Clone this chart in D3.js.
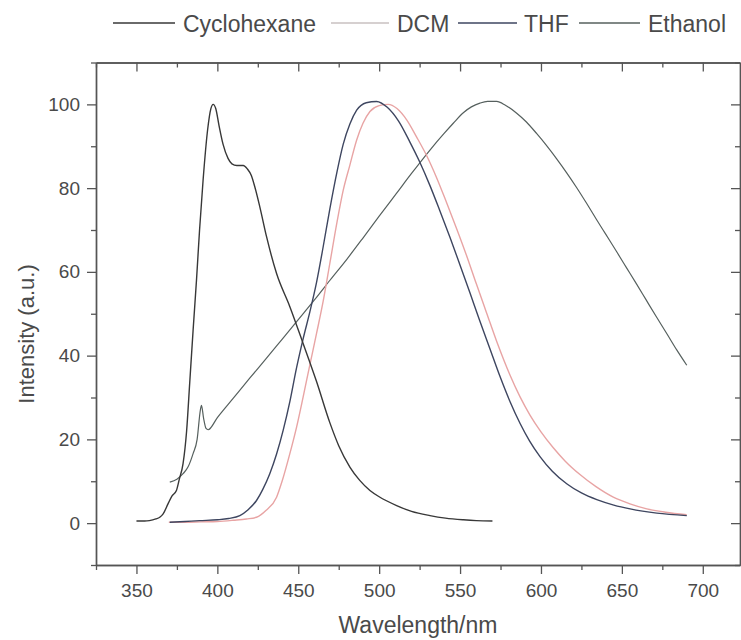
<!DOCTYPE html>
<html>
<head>
<meta charset="utf-8">
<script src="https://cdn.jsdelivr.net/npm/d3@7"></script>
<style>
  html, body { margin: 0; padding: 0; background: #fff; }
  svg { display: block; }
  text { font-family: "Liberation Sans", Arial, sans-serif; fill: #4a4a4a; }
</style>
</head>
<body>
<svg id="chart" width="741" height="640"></svg>
<script>
// ---- data (wavelength nm, normalized intensity a.u.) ----
const seriesNames = ["Cyclohexane", "DCM", "THF", "Ethanol"];
const seriesColors = ["#383838", "#e8a4a4", "#3e4660", "#56605e"];
const legendColors = ["#383838", "#c8c0c0", "#3e4660", "#56605e"];

const cyclohexane = [
  [350,0.5],[355,0.5],[358,0.6],[362,1.0],[364.4,1.4],[366.5,2.2],[369.5,4.6],[372,6.5],[374.7,7.8],
  [376.5,10.5],[378.8,14.2],[381,22],[383,34],[385,46],[387.1,58],[389,70],[391.2,82],[394,94],
  [396,99],[397.4,100],[399,99],[401,95],[403.5,90.5],[406.6,87.1],[409,85.8],[412,85.4],[416,85.4],
  [418.5,84.6],[421,83],[423,80.5],[426.2,75.6],[430.4,68.4],[436.6,59.6],[444.8,51.7],[453,42.9],
  [461.3,33.8],[469.5,24],[475,18.5],[481.9,13.4],[488,10.2],[494.3,7.8],[500,6.3],[510.8,4.2],
  [520,2.8],[531.4,1.8],[541,1.2],[552,0.8],[560,0.6],[570,0.5]
];

const dcm = [
  [370,0.2],[380,0.2],[390,0.3],[400,0.4],[410,0.7],[418,1.0],[424.2,1.4],[430,3],[436.6,6.2],
  [440,10],[444.8,16.6],[449,23],[453,30.1],[457,37.5],[461.3,45.3],[465.4,53],[469.5,62],[474,72],
  [477.8,79.5],[481.9,85.5],[486.1,91.5],[490,95.5],[494.3,98.3],[500,99.7],[505.6,100],[511,99],
  [517,96.3],[523,92.3],[529.3,87.8],[535.5,82.5],[541.7,76.5],[548,70.2],[554.1,63.8],[560,57.2],
  [566.4,50.2],[573,43],[580.9,35.3],[587,30.2],[593.2,25.8],[600,21.8],[607.6,18],[615,14.8],
  [624.1,11.6],[634,8.7],[644.7,6.2],[655,4.6],[665.4,3.4],[677,2.6],[690.1,2.0]
];

const thf = [
  [370.6,0.2],[380,0.4],[389,0.6],[400,0.8],[407,1.1],[413.9,1.8],[419,3.2],[424.2,5.4],[428,8],
  [432.4,11.8],[436.6,16.5],[440.7,22.2],[444.8,29],[448.9,37],[453,44],[457.2,50.5],[461.3,57.5],
  [465.4,66],[469.5,75],[474,84],[477.8,90.5],[481.9,95.3],[486.1,98.6],[492,100.4],[498.4,100.7],
  [505,99.3],[512,96],[519,91],[525,86.3],[531.4,80.6],[537.5,74.6],[543.8,68.2],[550,61.6],
  [556.1,55],[562,48.5],[568.5,41.6],[574.7,35],[580.9,29],[587.1,23.8],[593,19.6],[599.4,15.9],
  [607,12.4],[615.9,9.4],[625,7.2],[634.5,5.6],[645,4.3],[655.1,3.4],[671.6,2.4],[690.1,1.8]
];

const ethanol = [
  [370.6,9.8],[375,10.5],[378.8,11.8],[382,13.5],[385,16.6],[387.5,20],[389.5,27],[390.2,28.1],
  [391.5,25],[393,22.6],[394.3,22.3],[400,25.2],[410,29.9],[420,34.6],[430,39.2],[440,43.9],
  [450,48.6],[460,53.3],[469.6,58],[480,63],[490.2,68.2],[500,73.3],[510.8,78.8],[520,83.5],
  [531.4,89.1],[540,93],[545.8,95.5],[552,98],[557,99.4],[562.3,100.3],[567,100.7],[572.6,100.7],
  [578,99.8],[585,97.9],[591,95.8],[597.4,93],[603,90.4],[609.7,87],[616,83.6],[622.1,80.1],
  [628,76.5],[634.5,72.4],[640,69],[646.8,64.8],[653,60.9],[659.2,57],[665,53.3],[671.6,49.1],
  [678,45.1],[684,41.3],[690.1,37.7]
];

const xMajorTicks = [350, 400, 450, 500, 550, 600, 650, 700];
const xMinorTicks = [325, 375, 425, 475, 525, 575, 625, 675, 725];
const yMajorTicks = [0, 20, 40, 60, 80, 100];
const yMinorTicks = [-10, 10, 30, 50, 70, 90, 110];
const xTitle = "Wavelength/nm";
const yTitle = "Intensity (a.u.)";

// ---- drawing ----
const svg = d3.select("#chart");
const pLeft = 96, pRight = 740, pTop = 62.5, pBottom = 565;
const x = d3.scaleLinear().domain([325, 723]).range([pLeft, pRight]);
const y = d3.scaleLinear().domain([-10, 110]).range([pBottom, pTop]);
const axisColor = "#555";

const allSeries = [cyclohexane, dcm, thf, ethanol];
const line = d3.line().x(d => x(d[0])).y(d => y(d[1])).curve(d3.curveMonotoneX);

svg.append("defs").append("clipPath").attr("id", "clip")
  .append("rect").attr("x", pLeft).attr("y", pTop).attr("width", pRight - pLeft).attr("height", pBottom - pTop);

const plot = svg.append("g").attr("clip-path", "url(#clip)");
// draw order: ethanol, dcm, thf, cyclohexane
[3, 1, 2, 0].forEach(i => {
  plot.append("path")
    .datum(allSeries[i])
    .attr("fill", "none")
    .attr("stroke", seriesColors[i])
    .attr("stroke-width", i === 3 ? 1.2 : 1.4)
    .attr("stroke-linejoin", "round")
    .attr("d", line);
});

function styleAxis(g) {
  g.select(".domain").attr("stroke", axisColor).attr("stroke-width", 1.4);
  g.selectAll(".tick line").attr("stroke", axisColor).attr("stroke-width", 1.3);
  g.selectAll(".tick text").attr("font-size", 19).attr("fill", "#4a4a4a")
    .attr("font-family", "'Liberation Sans', Arial, sans-serif");
}

// bottom axis
svg.append("g").attr("transform", `translate(0,${pBottom})`)
  .call(d3.axisBottom(x).tickValues(xMajorTicks).tickSize(9).tickPadding(10).tickSizeOuter(0).tickFormat(d3.format("d")))
  .call(styleAxis);
svg.append("g").attr("transform", `translate(0,${pBottom})`)
  .call(d3.axisBottom(x).tickValues(xMinorTicks).tickSize(5).tickSizeOuter(0).tickFormat(""))
  .call(styleAxis);
// top axis (inward ticks)
svg.append("g").attr("transform", `translate(0,${pTop})`)
  .call(d3.axisBottom(x).tickValues(xMajorTicks).tickSize(9).tickSizeOuter(0).tickFormat(""))
  .call(styleAxis);
svg.append("g").attr("transform", `translate(0,${pTop})`)
  .call(d3.axisBottom(x).tickValues(xMinorTicks).tickSize(5).tickSizeOuter(0).tickFormat(""))
  .call(styleAxis);
// left axis
svg.append("g").attr("transform", `translate(${pLeft},0)`)
  .call(d3.axisLeft(y).tickValues(yMajorTicks).tickSize(9).tickPadding(7).tickSizeOuter(0).tickFormat(d3.format("d")))
  .call(styleAxis);
svg.append("g").attr("transform", `translate(${pLeft},0)`)
  .call(d3.axisLeft(y).tickValues(yMinorTicks).tickSize(5).tickSizeOuter(0).tickFormat(""))
  .call(styleAxis);
// right axis (inward ticks)
svg.append("g").attr("transform", `translate(${pRight},0)`)
  .call(d3.axisLeft(y).tickValues(yMajorTicks).tickSize(9).tickSizeOuter(0).tickFormat(""))
  .call(styleAxis);
svg.append("g").attr("transform", `translate(${pRight},0)`)
  .call(d3.axisLeft(y).tickValues(yMinorTicks).tickSize(5).tickSizeOuter(0).tickFormat(""))
  .call(styleAxis);

// axis titles
svg.append("text")
  .attr("x", (pLeft + pRight) / 2).attr("y", 633)
  .attr("text-anchor", "middle").attr("font-size", 23)
  .text(xTitle);
svg.append("text")
  .attr("transform", `translate(34,334) rotate(-90)`)
  .attr("text-anchor", "middle").attr("font-size", 22)
  .text(yTitle);

// legend
const legendPos = [
  {x1: 113, x2: 175, tx: 183},
  {x1: 331, x2: 389, tx: 397},
  {x1: 458, x2: 517, tx: 524},
  {x1: 579, x2: 640, tx: 648}
];
const lg = svg.append("g");
seriesNames.forEach((name, i) => {
  const p = legendPos[i];
  lg.append("line").attr("x1", p.x1).attr("x2", p.x2).attr("y1", 23).attr("y2", 23)
    .attr("stroke", legendColors[i]).attr("stroke-width", 1.4);
  lg.append("text").attr("x", p.tx).attr("y", 32).attr("font-size", 23).text(name);
});
</script>
</body>
</html>
